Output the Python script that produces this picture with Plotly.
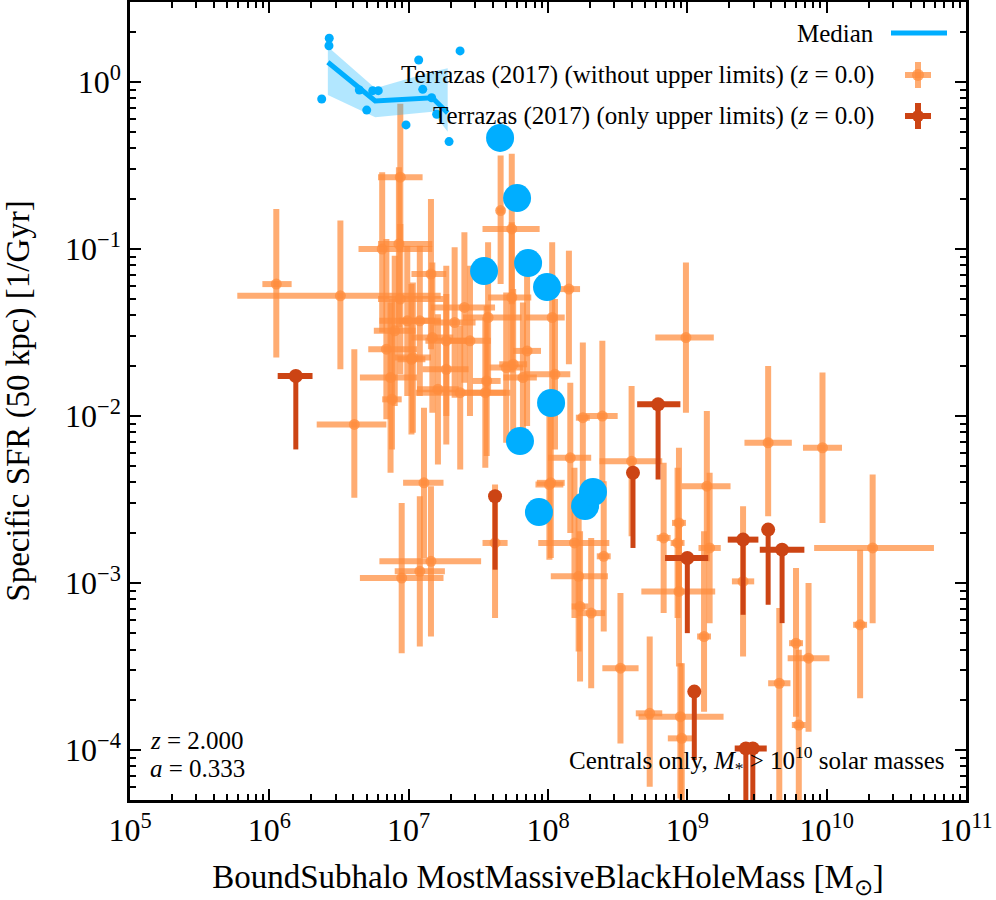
import numpy as np
import plotly.graph_objects as go

# ---- données (log10) ----
# médiane + bande
med_logm = [6.42, 6.76, 7.17, 7.28]
med_logs = [0.118, -0.114, -0.094, -0.186]
band_hi = [0.211, -0.038, 0.062, 0.082]
band_lo = [-0.078, -0.211, -0.178, -0.298]

# petits points bleus (galaxies de la simulation)
sim_logm = [6.43, 6.428, 6.376, 6.646, 6.699, 6.742, 6.782, 7.072, 7.101,
            7.165, 7.201, 6.981, 7.29, 7.369]
sim_logs = [0.262, 0.217, -0.102, -0.048, -0.168, -0.052, -0.052, 0.132,
            -0.044, -0.094, -0.193, -0.257, -0.357, 0.186]

# gros points bleus
big_logm = [7.656, 7.778, 7.541, 7.857, 7.993, 8.022, 7.799, 7.935, 8.266, 8.323]
big_logs = [-0.335, -0.695, -1.132, -1.084, -1.228, -1.922, -2.150, -2.575,
            -2.539, -2.455]

# Terrazas (2017) sans limites supérieures
obs_logm = [6.94, 6.05, 6.51, 6.81, 6.93, 7.16, 7.66, 7.74, 6.94, 6.84,
            6.87, 6.88, 6.61, 7.11, 7.40, 7.27, 7.37, 7.56, 7.55, 7.70,
            7.74, 7.85, 7.82, 7.57, 7.08, 6.99, 7.27, 7.03, 7.21, 7.62,
            6.95, 7.08, 7.16, 8.15, 8.03, 8.05, 8.99, 8.25, 8.39, 8.60,
            9.58, 9.97, 9.14, 8.16, 8.02, 8.83, 8.94, 8.93, 10.33, 9.16,
            8.19, 8.22, 8.23, 8.31, 8.40, 8.52, 8.73, 8.95, 8.96, 8.94,
            9.12, 9.40, 9.66, 9.78, 9.87, 9.80, 10.24, 7.02, 7.75, 8.01,
            6.90, 7.17, 7.33, 7.44]
obs_logs = [-0.57, -1.21, -1.28, -1.00, -0.97, -1.15, -0.77, -0.88, -1.30, -1.60,
            -1.77, -1.90, -2.05, -2.40, -1.35, -1.72, -1.86, -1.79, -1.86, -1.71,
            -1.29, -1.61, -1.77, -1.41, -1.43, -1.43, -1.55, -1.65, -1.84, -2.76,
            -2.97, -2.93, -2.87, -1.24, -1.41, -1.75, -1.53, -2.01, -2.00, -2.27,
            -2.16, -2.19, -2.42, -2.25, -2.40, -2.73, -2.64, -2.76, -2.79, -2.79,
            -2.76, -2.96, -3.14, -3.18, -2.84, -3.51, -3.78, -3.80, -3.93, -3.05,
            -3.32, -2.99, -3.60, -3.36, -3.45, -3.85, -3.25, -1.66, -1.69, -2.41,
            -1.49, -1.53, -1.44, -1.55]
obs_dxl = [0.16, 0.10, 0.74, 0.17, 0.15, 0.14, 0.03, 0.21, 0.16, 0.13,
           0.22, 0.07, 0.27, 0.15, 0.24, 0.17, 0.32, 0.10, 0.17, 0.12,
           0.17, 0.10, 0.14, 0.18, 0.15, 0.20, 0.15, 0.13, 0.15, 0.09,
           0.30, 0.18, 0.37, 0.08, 0.19, 0.22, 0.22, 0.05, 0.12, 0.23,
           0.17, 0.14, 0.18, 0.16, 0.10, 0.05, 0.05, 0.05, 0.42, 0.08,
           0.26, 0.20, 0.06, 0.10, 0.05, 0.13, 0.10, 0.30, 0.10, 0.27,
           0.05, 0.08, 0.08, 0.05, 0.15, 0.05, 0.05, 0.10, 0.10, 0.10,
           0.15, 0.15, 0.15, 0.15]
obs_dxh = [0.16, 0.11, 0.72, 0.36, 0.24, 0.11, 0.03, 0.20, 0.31, 0.22,
           0.19, 0.07, 0.23, 0.14, 0.22, 0.16, 0.36, 0.10, 0.15, 0.12,
           0.14, 0.10, 0.10, 0.24, 0.15, 0.20, 0.15, 0.13, 0.15, 0.09,
           0.30, 0.18, 0.36, 0.08, 0.09, 0.11, 0.20, 0.05, 0.11, 0.22,
           0.17, 0.14, 0.17, 0.15, 0.10, 0.05, 0.05, 0.05, 0.44, 0.08,
           0.25, 0.21, 0.06, 0.10, 0.05, 0.13, 0.09, 0.31, 0.10, 0.26,
           0.05, 0.08, 0.08, 0.05, 0.15, 0.05, 0.05, 0.10, 0.10, 0.10,
           0.15, 0.15, 0.15, 0.15]
obs_dyl = [0.45, 0.44, 0.44, 0.50, 0.50, 0.45, 0.44, 0.45, 0.45, 0.42,
           0.57, 0.30, 0.44, 0.45, 0.45, 0.45, 0.46, 0.45, 0.45, 0.45,
           0.45, 0.45, 0.45, 0.45, 0.45, 0.45, 0.45, 0.45, 0.45, 0.45,
           0.45, 0.45, 0.45, 0.45, 0.45, 0.45, 0.45, 0.45, 0.40, 0.45,
           0.44, 0.45, 0.45, 0.45, 0.45, 0.45, 0.40, 0.45, 0.45, 0.45,
           0.45, 0.45, 0.45, 0.45, 0.45, 0.45, 0.44, 0.49, 0.45, 0.45,
           0.45, 0.45, 0.70, 0.44, 0.44, 0.45, 0.44, 0.45, 0.45, 0.45,
           0.45, 0.45, 0.45, 0.45]
obs_dyh = [0.44, 0.45, 0.45, 0.46, 0.46, 0.45, 0.33, 0.45, 0.45, 0.66,
           0.45, 0.60, 0.45, 0.45, 0.45, 0.45, 0.40, 0.45, 0.45, 0.45,
           0.45, 0.45, 0.45, 0.45, 0.45, 0.45, 0.45, 0.45, 0.45, 0.35,
           0.45, 0.45, 0.45, 0.23, 0.45, 0.45, 0.45, 0.45, 0.45, 0.45,
           0.46, 0.45, 0.45, 0.45, 0.45, 0.45, 0.45, 0.45, 0.44, 0.45,
           0.45, 0.45, 0.45, 0.45, 0.45, 0.45, 0.46, 0.32, 0.45, 0.42,
           0.63, 0.45, 0.45, 0.45, 0.45, 0.45, 0.45, 0.45, 0.45, 0.45,
           0.45, 0.45, 0.45, 0.45]

# Terrazas (2017) limites supérieures seulement
lim_logm = [6.19, 7.62, 8.61, 8.79, 9.40, 9.58, 9.68, 9.00, 9.05, 9.42, 9.47]
lim_logs = [-1.76, -2.48, -2.34, -1.93, -2.74, -2.68, -2.80, -2.85, -3.65, -3.99, -3.99]
lim_dxl = [0.13, 0.0, 0.0, 0.15, 0.11, 0.0, 0.16, 0.16, 0.0, 0.08, 0.0]
lim_dxh = [0.12, 0.0, 0.0, 0.16, 0.11, 0.0, 0.16, 0.15, 0.0, 0.15, 0.0]
lim_dyl = [0.44, 0.44, 0.45, 0.45, 0.45, 0.45, 0.44, 0.45, 0.41, 0.45, 0.45]

# graduations
x_decades = [5, 6, 7, 8, 9, 10, 11]
y_decades = [-4, -3, -2, -1, 0]

ORANGE = "rgba(255,140,60,0.72)"
DARK = "rgb(204,68,20)"
BLUE = "rgb(0,174,255)"
SERIF = "Liberation Serif"


def errs(center, dlo, dhi):
    c = 10 ** np.array(center)
    return c - 10 ** (np.array(center) - np.array(dlo)), 10 ** (np.array(center) + np.array(dhi)) - c


fig = go.Figure()

# Observations
ox_lo, ox_hi = errs(obs_logm, obs_dxl, obs_dxh)
oy_lo, oy_hi = errs(obs_logs, obs_dyl, obs_dyh)
fig.add_trace(go.Scatter(
    x=10 ** np.array(obs_logm), y=10 ** np.array(obs_logs), mode="markers",
    marker=dict(size=11, color=ORANGE),
    error_x=dict(type="data", symmetric=False, array=ox_hi, arrayminus=ox_lo,
                 color=ORANGE, thickness=6, width=0),
    error_y=dict(type="data", symmetric=False, array=oy_hi, arrayminus=oy_lo,
                 color=ORANGE, thickness=6, width=0),
    showlegend=False))

lx_lo, lx_hi = errs(lim_logm, lim_dxl, lim_dxh)
ly_lo, _ = errs(lim_logs, lim_dyl, [0] * len(lim_dyl))
fig.add_trace(go.Scatter(
    x=10 ** np.array(lim_logm), y=10 ** np.array(lim_logs), mode="markers",
    marker=dict(size=14, color=DARK),
    error_x=dict(type="data", symmetric=False, array=lx_hi, arrayminus=lx_lo,
                 color=DARK, thickness=6, width=0),
    error_y=dict(type="data", symmetric=False, array=np.zeros(len(lim_logs)),
                 arrayminus=ly_lo, color=DARK, thickness=5, width=0),
    showlegend=False))

# Bande + médiane
fig.add_trace(go.Scatter(x=10 ** np.array(med_logm), y=10 ** np.array(band_lo),
                         mode="lines", line=dict(width=0), showlegend=False))
fig.add_trace(go.Scatter(x=10 ** np.array(med_logm), y=10 ** np.array(band_hi),
                         mode="lines", line=dict(width=0), fill="tonexty",
                         fillcolor="rgba(0,174,255,0.3)", showlegend=False))
fig.add_trace(go.Scatter(x=10 ** np.array(med_logm), y=10 ** np.array(med_logs),
                         mode="lines", line=dict(color=BLUE, width=5), showlegend=False))
fig.add_trace(go.Scatter(x=10 ** np.array(sim_logm), y=10 ** np.array(sim_logs),
                         mode="markers", marker=dict(size=9, color=BLUE), showlegend=False))
fig.add_trace(go.Scatter(x=10 ** np.array(big_logm), y=10 ** np.array(big_logs),
                         mode="markers", marker=dict(size=28, color=BLUE), showlegend=False))


# Légende dessinée à la main (symboles à droite du texte, comme matplotlib)
def px(x):
    return (x - 130) / 836


def py(y):
    return (800 - y) / 798


legend_rows = [
    ("Median", 33),
    ("Terrazas (2017) (without upper limits) (<i>z</i> = 0.0)", 75),
    ("Terrazas (2017) (only upper limits) (<i>z</i> = 0.0)", 116),
]
for txt, yy in legend_rows:
    fig.add_annotation(x=px(876), y=py(yy), xref="paper", yref="paper", text=txt,
                       showarrow=False, xanchor="right", yanchor="middle",
                       font=dict(family=SERIF, size=25, color="black"))
fig.add_shape(type="line", xref="paper", yref="paper", x0=px(891), x1=px(947),
              y0=py(33), y1=py(33), line=dict(color=BLUE, width=5))
for col, yy in [(ORANGE, 75), (DARK, 116)]:
    fig.add_shape(type="line", xref="paper", yref="paper", x0=px(905), x1=px(931),
                  y0=py(yy), y1=py(yy), line=dict(color=col, width=6))
    fig.add_shape(type="line", xref="paper", yref="paper", x0=px(918), x1=px(918),
                  y0=py(yy - 13), y1=py(yy + 13), line=dict(color=col, width=6))
    fig.add_shape(type="circle", xref="paper", yref="paper", x0=px(912), x1=px(924),
                  y0=py(yy - 6), y1=py(yy + 6), fillcolor=col, line=dict(width=0))

fig.add_annotation(x=px(148), y=py(740), xref="paper", yref="paper",
                   text="<i>z</i> = 2.000", showarrow=False, xanchor="left",
                   yanchor="middle", font=dict(family=SERIF, size=25, color="black"))
fig.add_annotation(x=px(148), y=py(768), xref="paper", yref="paper",
                   text="<i>a</i> = 0.333", showarrow=False, xanchor="left",
                   yanchor="middle", font=dict(family=SERIF, size=25, color="black"))
fig.add_annotation(x=px(947), y=py(760), xref="paper", yref="paper",
                   text="Centrals only, <i>M</i><sub>*</sub> > 10<sup>10</sup> solar masses",
                   showarrow=False, xanchor="right", yanchor="middle",
                   font=dict(family=SERIF, size=25, color="black"))

axis_common = dict(
    type="log", showgrid=False, zeroline=False, showline=True, linecolor="black",
    linewidth=2.5, mirror="allticks", ticks="inside", ticklen=11, tickwidth=2,
    tickcolor="black", automargin=False,
    tickfont=dict(family=SERIF, size=32, color="black"),
    minor=dict(ticks="inside", ticklen=6, tickwidth=1.5, tickcolor="black", dtick="D1"),
)
fig.update_xaxes(axis_common, range=[5, 11], tickmode="array",
                 tickvals=[10.0 ** d for d in x_decades],
                 ticktext=["10<sup>%d</sup>" % d for d in x_decades],
                 title=dict(text="BoundSubhalo MostMassiveBlackHoleMass [M<sub>⊙</sub>]",
                            font=dict(family=SERIF, size=33, color="black"), standoff=20))
fig.update_yaxes(axis_common, range=[-4.299, 0.479], tickmode="array",
                 tickvals=[10.0 ** d for d in y_decades],
                 ticktext=["10<sup>%s</sup>" % ("−%d" % -d if d < 0 else "%d" % d) for d in y_decades],
                 title=dict(text="Specific SFR (50 kpc) [1/Gyr]",
                            font=dict(family=SERIF, size=33, color="black"), standoff=26))

fig.update_layout(
    width=996, height=900,
    margin=dict(l=130, r=30, t=2, b=100),
    plot_bgcolor="white", paper_bgcolor="white",
    showlegend=False,
)

# la page a une marge par défaut de 8 px : on la retire
fig.write_html("out.html", config={"displayModeBar": False},
               post_script="document.body.style.margin='0';")
